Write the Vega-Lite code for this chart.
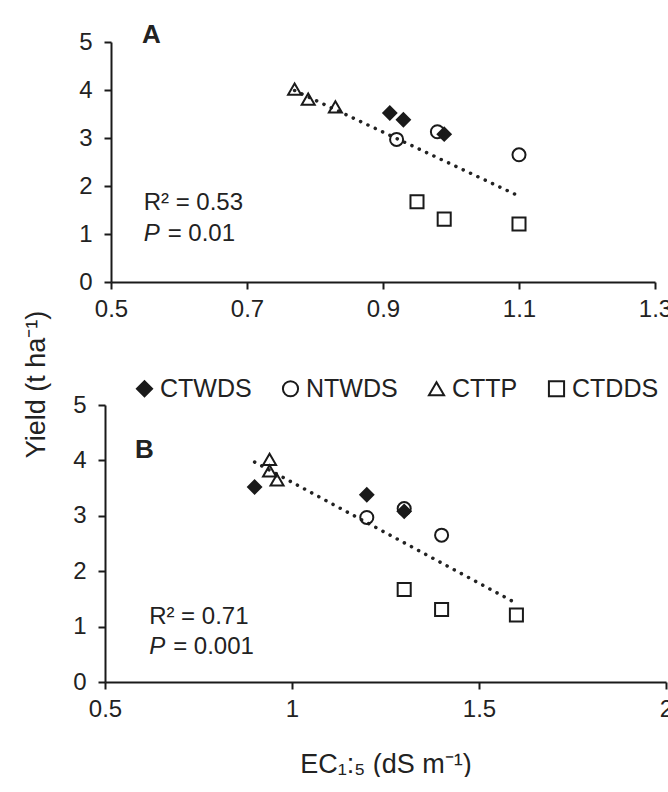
{
  "$schema": "https://vega.github.io/schema/vega-lite/v6.json",
  "padding": {"left": 22, "top": 21, "right": 0, "bottom": 0},
  "background": "white",
  "config": {
    "font": "Liberation Sans",
    "view": {"stroke": null},
    "axis": {
      "grid": false,
      "domainColor": "#1a1a1a",
      "domainWidth": 2,
      "tickColor": "#1a1a1a",
      "tickWidth": 2,
      "tickSize": 7,
      "labelFlush": false,
      "labelFont": "Liberation Sans",
      "labelFontSize": 24,
      "labelColor": "#222222",
      "titleFont": "Liberation Sans",
      "titleFontSize": 27,
      "titleFontWeight": "normal",
      "titleColor": "#222222"
    },
    "legend": {
      "labelFont": "Liberation Sans",
      "labelFontSize": 25,
      "labelColor": "#222222",
      "symbolSize": 230,
      "symbolStrokeWidth": 2,
      "labelOffset": 3,
      "columnPadding": 26,
      "padding": 0
    }
  },
  "datasets": {
    "pointsA": [
      {"series": "CTWDS", "ec": 0.91, "yield": 3.52},
      {"series": "CTWDS", "ec": 0.93, "yield": 3.38},
      {"series": "CTWDS", "ec": 0.99, "yield": 3.08},
      {"series": "NTWDS", "ec": 0.92, "yield": 2.97},
      {"series": "NTWDS", "ec": 0.98, "yield": 3.13},
      {"series": "NTWDS", "ec": 1.10, "yield": 2.65},
      {"series": "CTTP", "ec": 0.77, "yield": 4.02},
      {"series": "CTTP", "ec": 0.79, "yield": 3.81},
      {"series": "CTTP", "ec": 0.83, "yield": 3.65},
      {"series": "CTDDS", "ec": 0.95, "yield": 1.67},
      {"series": "CTDDS", "ec": 0.99, "yield": 1.31},
      {"series": "CTDDS", "ec": 1.10, "yield": 1.21}
    ],
    "pointsB": [
      {"series": "CTWDS", "ec": 0.90, "yield": 3.52},
      {"series": "CTWDS", "ec": 1.20, "yield": 3.38},
      {"series": "CTWDS", "ec": 1.30, "yield": 3.08},
      {"series": "NTWDS", "ec": 1.20, "yield": 2.97},
      {"series": "NTWDS", "ec": 1.30, "yield": 3.13},
      {"series": "NTWDS", "ec": 1.40, "yield": 2.65},
      {"series": "CTTP", "ec": 0.94, "yield": 4.02},
      {"series": "CTTP", "ec": 0.94, "yield": 3.81},
      {"series": "CTTP", "ec": 0.96, "yield": 3.65},
      {"series": "CTDDS", "ec": 1.30, "yield": 1.67},
      {"series": "CTDDS", "ec": 1.40, "yield": 1.31},
      {"series": "CTDDS", "ec": 1.60, "yield": 1.21}
    ],
    "trendA": [
      {"ec": 0.77, "yield": 3.99},
      {"ec": 1.10, "yield": 1.79}
    ],
    "trendB": [
      {"ec": 0.90, "yield": 3.97},
      {"ec": 1.60, "yield": 1.42}
    ],
    "notesA": [
      {"kind": "letter", "ec": 0.5456, "yield": 4.98, "label": "A"},
      {"kind": "r2", "ec": 0.548, "yield": 1.506, "label": "R² = 0.53"},
      {"kind": "p", "ec": 0.548, "yield": 0.86, "label": "P"},
      {"kind": "pv", "ec": 0.548, "yield": 0.86, "label": "= 0.01"}
    ],
    "notesB": [
      {"kind": "letter", "ec": 0.58, "yield": 4.04, "label": "B"},
      {"kind": "r2", "ec": 0.618, "yield": 1.054, "label": "R² = 0.71"},
      {"kind": "p", "ec": 0.618, "yield": 0.512, "label": "P"},
      {"kind": "pv", "ec": 0.618, "yield": 0.512, "label": "= 0.001"}
    ]
  },
  "bounds": "flush",
  "spacing": 123,
  "resolve": {
    "scale": {"x": "independent", "y": "independent"},
    "legend": {"shape": "independent"}
  },
  "vconcat": [
    {
      "width": 550,
      "height": 240,
      "encoding": {
        "x": {"field": "ec", "type": "quantitative", "scale": {"domain": [0.5, 1.3], "range": [6, 550], "nice": false, "zero": false}, "axis": {"values": [0.5, 0.7, 0.9, 1.1, 1.3], "format": ".1f", "title": null, "labelPadding": 8}},
        "y": {"field": "yield", "type": "quantitative", "scale": {"domain": [0, 5], "nice": false}, "axis": {"values": [0, 1, 2, 3, 4, 5], "title": null, "labelPadding": 12, "offset": -6}}
      },
      "layer": [
        {
          "data": {"name": "trendA"},
          "mark": {"type": "line", "strokeDash": [0.1, 8], "strokeCap": "round", "strokeWidth": 3.5, "color": "#222222"}
        },
        {
          "data": {"name": "pointsA"},
          "mark": {"type": "point", "filled": false, "color": "#1a1a1a", "strokeWidth": 2, "size": 170, "opacity": 1},
          "encoding": {
            "shape": {"field": "series", "type": "nominal", "scale": {"domain": ["CTWDS", "NTWDS", "CTTP", "CTDDS"], "range": ["M0,-1L1,0L0,1L-1,0ZM0,-0.75L0.75,0L0,0.75L-0.75,0ZM0,-0.5L0.5,0L0,0.5L-0.5,0ZM0,-0.25L0.25,0L0,0.25L-0.25,0ZM0,-0.05L0.05,0L0,0.05L-0.05,0Z", "circle", "triangle-up", "square"]}, "legend": null}
          }
        },
        {
          "data": {"name": "notesA"},
          "transform": [{"filter": "datum.kind === 'letter'"}],
          "mark": {"type": "text", "align": "left", "baseline": "alphabetic", "fontSize": 26, "fontWeight": "bold", "color": "#222222"},
          "encoding": {"text": {"field": "label"}}
        },
        {
          "data": {"name": "notesA"},
          "transform": [{"filter": "datum.kind === 'r2'"}],
          "mark": {"type": "text", "align": "left", "baseline": "alphabetic", "fontSize": 24, "color": "#222222"},
          "encoding": {"text": {"field": "label"}}
        },
        {
          "data": {"name": "notesA"},
          "transform": [{"filter": "datum.kind === 'p'"}],
          "mark": {"type": "text", "align": "left", "baseline": "alphabetic", "fontSize": 24, "fontStyle": "italic", "color": "#222222"},
          "encoding": {"text": {"field": "label"}}
        },
        {
          "data": {"name": "notesA"},
          "transform": [{"filter": "datum.kind === 'pv'"}],
          "mark": {"type": "text", "align": "left", "baseline": "alphabetic", "fontSize": 24, "dx": 24, "color": "#222222"},
          "encoding": {"text": {"field": "label"}}
        }
      ]
    },
    {
      "width": 561,
      "height": 277,
      "encoding": {
        "x": {"field": "ec", "type": "quantitative", "scale": {"domain": [0.5, 2], "nice": false, "zero": false}, "axis": {"values": [0.5, 1, 1.5, 2], "format": "~g", "title": "EC₁:₅ (dS m⁻¹)", "labelPadding": 8, "titlePadding": 30}},
        "y": {"field": "yield", "type": "quantitative", "scale": {"domain": [0, 5], "nice": false}, "axis": {"values": [0, 1, 2, 3, 4, 5], "title": "Yield (t ha⁻¹)", "labelPadding": 12, "titlePadding": 22, "titleY": -21}}
      },
      "layer": [
        {
          "data": {"name": "trendB"},
          "mark": {"type": "line", "strokeDash": [0.1, 8], "strokeCap": "round", "strokeWidth": 3.5, "color": "#222222"}
        },
        {
          "data": {"name": "pointsB"},
          "mark": {"type": "point", "filled": false, "color": "#1a1a1a", "strokeWidth": 2, "size": 170, "opacity": 1},
          "encoding": {
            "shape": {"field": "series", "type": "nominal", "scale": {"domain": ["CTWDS", "NTWDS", "CTTP", "CTDDS"], "range": ["M0,-1L1,0L0,1L-1,0ZM0,-0.75L0.75,0L0,0.75L-0.75,0ZM0,-0.5L0.5,0L0,0.5L-0.5,0ZM0,-0.25L0.25,0L0,0.25L-0.25,0ZM0,-0.05L0.05,0L0,0.05L-0.05,0Z", "circle", "triangle-up", "square"]}, "legend": {"orient": "none", "legendX": 27, "legendY": -29, "direction": "horizontal", "title": null}}
          }
        },
        {
          "data": {"name": "notesB"},
          "transform": [{"filter": "datum.kind === 'letter'"}],
          "mark": {"type": "text", "align": "left", "baseline": "alphabetic", "fontSize": 26, "fontWeight": "bold", "color": "#222222"},
          "encoding": {"text": {"field": "label"}}
        },
        {
          "data": {"name": "notesB"},
          "transform": [{"filter": "datum.kind === 'r2'"}],
          "mark": {"type": "text", "align": "left", "baseline": "alphabetic", "fontSize": 24, "color": "#222222"},
          "encoding": {"text": {"field": "label"}}
        },
        {
          "data": {"name": "notesB"},
          "transform": [{"filter": "datum.kind === 'p'"}],
          "mark": {"type": "text", "align": "left", "baseline": "alphabetic", "fontSize": 24, "fontStyle": "italic", "color": "#222222"},
          "encoding": {"text": {"field": "label"}}
        },
        {
          "data": {"name": "notesB"},
          "transform": [{"filter": "datum.kind === 'pv'"}],
          "mark": {"type": "text", "align": "left", "baseline": "alphabetic", "fontSize": 24, "dx": 24, "color": "#222222"},
          "encoding": {"text": {"field": "label"}}
        }
      ]
    }
  ]
}
